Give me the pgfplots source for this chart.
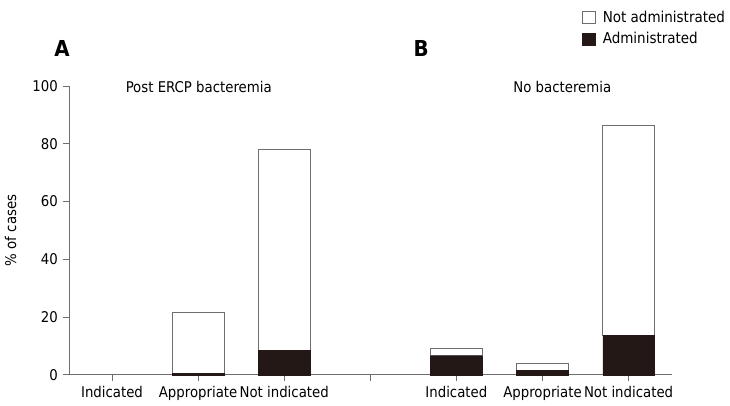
\documentclass[border=0pt]{standalone}
\usepackage{pgfplots}
\pgfplotsset{compat=1.18}
\usepackage{fontspec}
\setmainfont{DejaVu Sans Condensed}
\definecolor{darkbar}{HTML}{231815}
\definecolor{axisgray}{HTML}{6E6E6E}

\begin{document}
\fontsize{14.8pt}{17pt}\selectfont
\begin{tikzpicture}
\begin{axis}[
    scale only axis,
    width=603pt, height=289pt,
    xmin=-0.5, xmax=6.5, ymin=0, ymax=100,
    axis x line*=bottom, axis y line*=left,
    axis line style={axisgray, line width=0.8pt},
    ybar stacked, bar width=0.6,
    xtick={0,1,2,3,4,5,6},
    xticklabels={Indicated,Appropriate,Not indicated,,Indicated,Appropriate,Not indicated},
    ytick={0,20,40,60,80,100},
    tick align=outside, major tick length=6pt,
    tick style={axisgray, line width=0.8pt},
    /pgf/number format/assume math mode=true,
    ylabel={\% of cases},
    ylabel style={yshift=6pt},
    clip=false,
    legend style={at={(0.846,1.275)}, anchor=north west, draw=none, fill=none,
        row sep=4pt, font=\fontsize{15pt}{17pt}\selectfont,
        /tikz/every odd column/.append style={column sep=5pt}},
    legend cell align=left,
    legend image code/.code={\draw[#1] (0pt,-6pt) rectangle (13pt,6pt);},
    reverse legend,
]
\addplot[fill=darkbar, draw=darkbar] coordinates {(1,0.4) (2,8.4) (4,6.6) (5,1.5) (6,13.7)};
\addlegendentry{Administrated}
\addplot[fill=white, draw=axisgray, line width=0.8pt] coordinates {(1,21.1) (2,69.6) (4,2.6) (5,2.6) (6,72.8)};
\addlegendentry{Not administrated}
\node[anchor=west] at (axis cs:0.1,99.5) {Post ERCP bacteremia};
\node[anchor=center] at (axis cs:5.23,99.5) {No bacteremia};
\node[font=\fontsize{22pt}{24pt}\selectfont\bfseries] at (axis cs:-0.58,113) {A};
\node[font=\fontsize{22pt}{24pt}\selectfont\bfseries] at (axis cs:3.59,113) {B};
\end{axis}
\path[use as bounding box] (-69pt,-31pt) rectangle (661pt,375pt);
\end{tikzpicture}
\end{document}
